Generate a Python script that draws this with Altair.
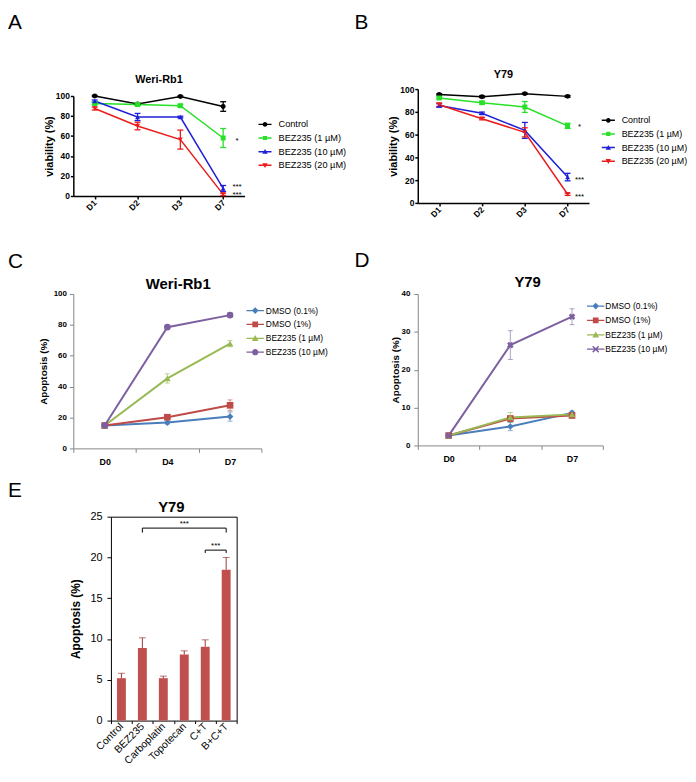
import altair as alt
import pandas as pd

FONT = "Liberation Sans"
MU = "\u00b5"

# ---------------- Panel A : Weri-Rb1 viability ----------------
a_days = ["D1", "D2", "D3", "D7"]
a_series = ["Control", f"BEZ235 (1 {MU}M)", f"BEZ235 (10 {MU}M)", f"BEZ235 (20 {MU}M)"]
a_control = [100.0, 92.0, 99.5, 89.5]
a_bez1 = [92.5, 91.5, 90.3, 58.0]
a_bez10 = [95.0, 79.0, 79.0, 7.5]
a_bez20 = [87.5, 70.0, 56.4, 1.6]
a_control_err = [0.6, 0.8, 0.6, 4.8]
a_bez1_err = [1.0, 1.2, 1.4, 9.5]
a_bez10_err = [1.0, 3.6, 0.8, 3.0]
a_bez20_err = [1.5, 3.8, 9.5, 1.2]
a_star_labels = ["*", "***", "***"]
a_star_values = [54.5, 8.5, 0.8]

# ---------------- Panel B : Y79 viability ----------------
b_days = ["D1", "D2", "D3", "D7"]
b_series = a_series
b_control = [95.3, 93.3, 96.0, 93.6]
b_bez1 = [92.2, 88.0, 84.3, 67.7]
b_bez10 = [85.6, 78.8, 63.7, 22.7]
b_bez20 = [86.3, 74.0, 62.0, 7.6]
b_control_err = [0.6, 0.8, 0.6, 0.8]
b_bez1_err = [1.0, 1.2, 4.8, 2.3]
b_bez10_err = [1.5, 1.0, 7.0, 3.3]
b_bez20_err = [1.5, 1.0, 4.0, 1.0]
b_star_labels = ["*", "***", "***"]
b_star_values = [66.5, 20.4, 4.8]

# ---------------- Panel C : Weri-Rb1 apoptosis ----------------
c_days = ["D0", "D4", "D7"]
c_series = ["DMSO (0.1%)", "DMSO (1%)", f"BEZ235 (1 {MU}M)", f"BEZ235 (10 {MU}M)"]
c_dmso01 = [14.8, 16.7, 20.6]
c_dmso1 = [14.8, 20.2, 27.9]
c_bez1 = [14.8, 45.3, 67.8]
c_bez10 = [14.8, 78.5, 86.3]
c_dmso01_err = [1.0, 1.0, 3.0]
c_dmso1_err = [1.0, 1.5, 3.5]
c_bez1_err = [1.0, 3.0, 2.0]
c_bez10_err = [1.0, 1.2, 1.5]

# ---------------- Panel D : Y79 apoptosis ----------------
d_days = ["D0", "D4", "D7"]
d_series = c_series
d_dmso01 = [2.6, 5.0, 8.6]
d_dmso1 = [2.6, 7.1, 7.9]
d_bez1 = [2.6, 7.4, 8.2]
d_bez10 = [2.6, 26.5, 34.0]
d_dmso01_err = [0.3, 1.1, 0.5]
d_dmso1_err = [0.3, 0.8, 0.5]
d_bez1_err = [0.3, 1.3, 0.5]
d_bez10_err = [0.3, 3.8, 2.1]

# ---------------- Panel E : Y79 apoptosis, combinations ----------------
e_cats = ["Control", "BEZ235", "Carboplatin", "Topotecan", "C+T", "B+C+T"]
e_values = [5.2, 8.9, 5.2, 8.1, 9.05, 18.5]
e_errors = [0.6, 1.25, 0.25, 0.45, 0.85, 1.5]
e_bracket_start = ["BEZ235", "C+T"]
e_bracket_end = ["B+C+T", "B+C+T"]
e_bracket_level = [23.6, 20.9]
e_bracket_drop = [0.55, 0.35]
e_bracket_labels = ["***", "***"]
e_star_gap = [0.45, 0.45]

# ---------------- styles ----------------
AB_COLORS = ["#000000", "#27e027", "#1f1fd8", "#ea1c1c"]
AB_SHAPES = ["circle", "square", "triangle-up", "triangle-down"]
CD_COLORS = ["#4a7ebb", "#be4b48", "#98b954", "#7d60a0"]
C_SHAPES = ["diamond", "square", "triangle-up", "circle"]
D_SHAPES = ["diamond", "square", "triangle-up", "cross"]
E_BAR = "#c0504d"
E_ERR = "#9c3634"


def f(v):
    return f"{v:.3f}".rstrip("0").rstrip(".")


def bar_path(L, t):
    return f"M{f(-L)},{f(-t)}H{f(L)}V{f(t)}H{f(-L)}Z"


def marker_path(kind, s):
    if kind == "circle":
        return f"M{f(s)},0A{f(s)},{f(s)} 0 1,1 {f(-s)},0A{f(s)},{f(s)} 0 1,1 {f(s)},0Z"
    if kind == "square":
        return f"M{f(-s)},{f(-s)}H{f(s)}V{f(s)}H{f(-s)}Z"
    if kind == "triangle-up":
        return f"M0,{f(-s)}L{f(s)},{f(s*0.8)}L{f(-s)},{f(s*0.8)}Z"
    if kind == "triangle-down":
        return f"M0,{f(s)}L{f(-s)},{f(-s*0.8)}L{f(s)},{f(-s*0.8)}Z"
    if kind == "diamond":
        return f"M0,{f(-s)}L{f(s)},0L0,{f(s)}L{f(-s)},0Z"
    if kind == "cross":
        k = 0.13
        a = s
        p1 = f"M{f(-a+k)},{f(-a-k)}L{f(a+k)},{f(a-k)}L{f(a-k)},{f(a+k)}L{f(-a-k)},{f(-a+k)}Z"
        p2 = f"M{f(-a-k)},{f(a-k)}L{f(a-k)},{f(-a-k)}L{f(a+k)},{f(-a+k)}L{f(-a+k)},{f(a+k)}Z"
        return p1 + p2
    return ""


def legend_symbol(kind, L, t, s):
    return bar_path(L, t) + marker_path(kind, s)


def long_df(days, names, series_vals, series_errs):
    rows = []
    for name, vals, errs in zip(names, series_vals, series_errs):
        for d, v, e in zip(days, vals, errs):
            rows.append({"day": d, "series": name, "value": v, "lo": v - e, "hi": v + e})
    return pd.DataFrame(rows)


def text_layer(text, x, y, size, weight="normal", align="left", baseline="top"):
    return alt.Chart(alt.Data(values=[{"t": text}])).mark_text(
        font=FONT, fontSize=size, fontWeight=weight, align=align, baseline=baseline, color="black"
    ).encode(text="t:N", x=alt.value(x), y=alt.value(y))


def line_panel(days, names, vals, errs, colors, shapes, legend_paths, *, width, height,
               y_max, x_scale, x_axis, y_axis, legend_props, marker_size,
               line_width, err_width, cap_size, err_opacity, title, title_x, title_y,
               title_size, letter, letter_x, letter_y, star_labels=(), star_values=(),
               star_dx=0, angles=None):
    df = long_df(days, names, vals, errs)
    ysc = alt.Scale(domain=[0, y_max], nice=False, zero=True)
    csc = alt.Scale(domain=names, range=colors)

    def X():
        return alt.X("day:N", sort=days, scale=x_scale, axis=x_axis)

    def Y(field):
        return alt.Y(f"{field}:Q", scale=ysc, axis=y_axis)

    def C(legend=None):
        return alt.Color("series:N", scale=csc, legend=legend)

    base = alt.Chart(df)
    legend_layer = base.mark_point(filled=True, opacity=0, size=legend_props["symbolSize"]).encode(
        x=X(), y=Y("value"), color=C(alt.Legend(**legend_props)),
        shape=alt.Shape("series:N", scale=alt.Scale(domain=names, range=legend_paths),
                        legend=alt.Legend(**legend_props)))
    lines = base.mark_line(strokeWidth=line_width).encode(x=X(), y=Y("value"), color=C())
    rules = base.mark_rule(strokeWidth=err_width, opacity=err_opacity).encode(
        x=X(), y=Y("lo"), y2="hi:Q", color=C())
    cap_lo = base.mark_tick(size=cap_size, thickness=err_width, opacity=err_opacity).encode(
        x=X(), y=Y("lo"), color=C())
    cap_hi = base.mark_tick(size=cap_size, thickness=err_width, opacity=err_opacity).encode(
        x=X(), y=Y("hi"), color=C())
    layers = [legend_layer, lines, rules, cap_lo, cap_hi]
    for i, name in enumerate(names):
        ang = angles[i] if angles else 0
        layers.append(base.transform_filter(alt.datum.series == name).mark_point(
            filled=True, shape=shapes[i], angle=ang, size=marker_size, opacity=1).encode(
            x=X(), y=Y("value"), color=C()))
    if star_labels:
        sdf = pd.DataFrame({"day": [days[-1]] * len(star_labels), "value": star_values,
                            "label": star_labels})
        layers.append(alt.Chart(sdf).mark_text(font=FONT, fontSize=8, dx=star_dx, align="center",
                                               baseline="middle", color="black").encode(
            x=X(), y=Y("value"), text="label:N"))
    layers.append(text_layer(title, title_x, title_y, title_size, "bold", "center", "alphabetic"))
    layers.append(text_layer(letter, letter_x, letter_y, 21))
    return alt.layer(*layers).properties(width=width, height=height)


# ---------- A & B ----------
ab_x_axis = alt.Axis(title=None, labelAngle=-45, labelAlign="right", labelBaseline="middle",
                     labelFontSize=8.5, labelFontWeight="bold", labelPadding=2, tickSize=3,
                     tickWidth=1.5, tickColor="black", domainColor="black", domainWidth=1.5)
ab_y_axis = alt.Axis(title="viability (%)", values=[0, 20, 40, 60, 80, 100], labelFontSize=8.5,
                     labelFontWeight="bold", labelPadding=1, tickSize=3, tickWidth=1.5,
                     tickColor="black", domainColor="black", domainWidth=1.5, titleFontSize=11,
                     titleFontWeight="bold", titlePadding=1)
ab_paths = [legend_symbol(k, 2.2, 0.25, s) for k, s in
            zip(AB_SHAPES, [0.8, 0.7, 0.9, 0.9])]


def ab_legend(x, y, size):
    return dict(orient="none", legendX=x, legendY=y, title=None, labelFont=FONT,
                labelFontSize=size, labelColor="black", symbolSize=36, symbolStrokeWidth=0,
                symbolOpacity=1, labelOffset=9, rowPadding=3.8, padding=0, labelLimit=300)


panel_a = line_panel(
    a_days, a_series, [a_control, a_bez1, a_bez10, a_bez20],
    [a_control_err, a_bez1_err, a_bez10_err, a_bez20_err], AB_COLORS, AB_SHAPES, ab_paths,
    width=173, height=101, y_max=100,
    x_scale=alt.Scale(type="point", domain=a_days, padding=0.5),
    x_axis=ab_x_axis, y_axis=ab_y_axis, legend_props=ab_legend(189, 24, 9.3), marker_size=25,
    line_width=1.5, err_width=1.3, cap_size=6, err_opacity=1,
    title="Weri-Rb1", title_x=86.5, title_y=-13, title_size=11,
    letter="A", letter_x=-66, letter_y=-85,
    star_labels=a_star_labels, star_values=a_star_values, star_dx=14)

panel_b = line_panel(
    b_days, b_series, [b_control, b_bez1, b_bez10, b_bez20],
    [b_control_err, b_bez1_err, b_bez10_err, b_bez20_err], AB_COLORS, AB_SHAPES, ab_paths,
    width=173, height=115, y_max=100,
    x_scale=alt.Scale(type="point", domain=b_days, padding=0.5),
    x_axis=ab_x_axis, y_axis=ab_y_axis, legend_props=ab_legend(188, 27, 9.0), marker_size=25,
    line_width=1.5, err_width=1.3, cap_size=6, err_opacity=1,
    title="Y79", title_x=86.5, title_y=-11, title_size=11,
    letter="B", letter_x=-64, letter_y=-78,
    star_labels=b_star_labels, star_values=b_star_values, star_dx=12)

# ---------- C & D ----------
cd_x_axis = alt.Axis(title=None, labelAngle=0, labelFontSize=9, labelFontWeight="bold",
                     labelPadding=5, tickBand="extent", tickSize=4, tickColor="#868686",
                     domainColor="#868686", labelColor="black")


def cd_y_axis(values, pad, tpad):
    return alt.Axis(title="Apoptosis (%)", values=values, labelFontSize=8,
                    labelFontWeight="bold", labelPadding=pad, tickSize=4,
                    tickColor="#868686", domainColor="#868686", titleFontSize=10,
                    titleFontWeight="bold", titlePadding=tpad, labelColor="black")


def cd_legend(x, y, off, rp):
    return dict(orient="none", legendX=x, legendY=y, title=None, labelFont=FONT,
                labelFontSize=8.5, labelColor="black", symbolSize=64, symbolStrokeWidth=0,
                symbolOpacity=1, labelOffset=off, rowPadding=rp, padding=0, labelLimit=300)


c_paths = [legend_symbol(k, 2.2, 0.16, s) for k, s in zip(C_SHAPES, [0.85, 0.72, 0.85, 0.8])]
d_paths = [legend_symbol(k, 2.2, 0.16, s) for k, s in zip(D_SHAPES, [0.85, 0.72, 0.85, 0.75])]

panel_c = line_panel(
    c_days, c_series, [c_dmso01, c_dmso1, c_bez1, c_bez10],
    [c_dmso01_err, c_dmso1_err, c_bez1_err, c_bez10_err], CD_COLORS, C_SHAPES, c_paths,
    width=190, height=156, y_max=100,
    x_scale=alt.Scale(type="band", domain=c_days, paddingInner=0, paddingOuter=0),
    x_axis=cd_x_axis, y_axis=cd_y_axis([0, 20, 40, 60, 80, 100], 3, 5),
    legend_props=cd_legend(179.5, 12.5, 6.5, 5.0), marker_size=45,
    line_width=2, err_width=1, cap_size=5, err_opacity=0.6,
    title="Weri-Rb1", title_x=106, title_y=-5, title_size=15,
    letter="C", letter_x=-66, letter_y=-43)

panel_d = line_panel(
    d_days, d_series, [d_dmso01, d_dmso1, d_bez1, d_bez10],
    [d_dmso01_err, d_dmso1_err, d_bez1_err, d_bez10_err], CD_COLORS, D_SHAPES, d_paths,
    width=187, height=153, y_max=40,
    x_scale=alt.Scale(type="band", domain=d_days, paddingInner=0, paddingOuter=0),
    x_axis=cd_x_axis, y_axis=cd_y_axis([0, 10, 20, 30, 40], 4, 1),
    legend_props=cd_legend(175.5, 8, 5.5, 5.5), marker_size=45,
    line_width=2, err_width=1, cap_size=5, err_opacity=0.6,
    title="Y79", title_x=111, title_y=-7.5, title_size=15,
    letter="D", letter_x=-64, letter_y=-44.5, angles=[0, 0, 0, 45])

# ---------- E ----------
E_LEFT, E_RIGHT, E_H, E_TOP = 38, 165, 183, -23
e_step = (E_RIGHT - E_LEFT) / len(e_cats)
e_df = pd.DataFrame({"cat": e_cats, "value": e_values,
                     "hi": [v + e for v, e in zip(e_values, e_errors)]})
exs = alt.Scale(domain=e_cats, range=[E_LEFT, E_RIGHT], paddingInner=0, paddingOuter=0)
eys = alt.Scale(domain=[0, 25], range=[E_H, E_TOP], nice=False, zero=True)

e_bottom = alt.Axis(orient="bottom", title=None, labelAngle=-45, labelAlign="right",
                    labelBaseline="middle", labelFontSize=10.5, labelPadding=1, tickSize=3,
                    tickBand="extent", tickColor="black", domainColor="black",
                    labelColor="black")
e_left = alt.Axis(orient="left", offset=-E_LEFT, title="Apoptosis (%)", titleFontSize=12,
                  titleFontWeight="bold", titlePadding=8, values=[0, 5, 10, 15, 20, 25],
                  labelFontSize=11, labelPadding=5, tickSize=4, tickColor="black",
                  domainColor="black", labelColor="black")
e_top = alt.Axis(orient="top", offset=-E_TOP, labels=False, ticks=False, title=None,
                 domainColor="black")
e_right = alt.Axis(orient="right", labels=False, ticks=False, title=None, domainColor="black")

e_bars = alt.Chart(e_df).mark_bar(size=9, color=E_BAR).encode(
    x=alt.X("cat:N", sort=e_cats, scale=exs, axis=e_bottom),
    y=alt.Y("value:Q", scale=eys, axis=e_left))
e_err = alt.Chart(e_df).mark_rule(color=E_ERR, strokeWidth=1).encode(
    x=alt.X("cat:N", sort=e_cats, scale=exs, axis=e_top),
    y=alt.Y("value:Q", scale=eys, axis=e_right), y2="hi:Q")
e_cap = alt.Chart(e_df).mark_tick(color=E_ERR, size=7, thickness=1).encode(
    x=alt.X("cat:N", sort=e_cats, scale=exs, axis=None),
    y=alt.Y("hi:Q", scale=eys, axis=None))

br_df = pd.DataFrame({"start": e_bracket_start, "end": e_bracket_end,
                      "level": e_bracket_level})
legs = []
for s, e_, lv, dr in zip(e_bracket_start, e_bracket_end, e_bracket_level, e_bracket_drop):
    legs.append({"cat": s, "top": lv, "bottom": lv - dr})
    legs.append({"cat": e_, "top": lv, "bottom": lv - dr})
legs_df = pd.DataFrame(legs)
e_br = alt.Chart(br_df).mark_rule(color="black", strokeWidth=1).encode(
    x=alt.X("start:N", sort=e_cats, scale=exs, axis=None), x2="end:N",
    y=alt.Y("level:Q", scale=eys, axis=None))
e_legs = alt.Chart(legs_df).mark_rule(color="black", strokeWidth=1).encode(
    x=alt.X("cat:N", sort=e_cats, scale=exs, axis=None),
    y=alt.Y("top:Q", scale=eys, axis=None), y2="bottom:Q")
e_layers = [e_bars, e_err, e_cap, e_br, e_legs]
for s, e_, lv, lab, gap in zip(e_bracket_start, e_bracket_end, e_bracket_level,
                               e_bracket_labels, e_star_gap):
    mid = (e_cats.index(e_) - e_cats.index(s)) / 2 * e_step
    sdf = pd.DataFrame({"cat": [s], "y": [lv + gap], "label": [lab]})
    e_layers.append(alt.Chart(sdf).mark_text(font=FONT, fontSize=8, dx=mid, align="center",
                                             baseline="middle", color="black").encode(
        x=alt.X("cat:N", sort=e_cats, scale=exs, axis=None),
        y=alt.Y("y:Q", scale=eys, axis=None), text="label:N"))
e_layers.append(text_layer("Y79", 99, -28, 15, "bold", "center", "alphabetic"))
e_layers.append(text_layer("E", -66, -60, 21))
panel_e = alt.layer(*e_layers).resolve_axis(x="independent", y="independent").properties(
    width=E_RIGHT, height=E_H)

chart = alt.concat(
    panel_a, panel_b, panel_c, panel_d, panel_e, columns=2,
    spacing={"row": 92, "column": 158}, bounds="flush", align="each",
    center={"row": True, "column": False},
).resolve_scale(
    color="independent", shape="independent"
).resolve_legend(
    color="independent", shape="independent"
).properties(
    padding={"left": 0, "top": 0, "right": 0, "bottom": 0}
).configure_view(stroke=None).configure_axis(
    grid=False, labelFont=FONT, titleFont=FONT, labelColor="black", titleColor="black"
).configure_legend(labelFont=FONT)

chart.save("out.html", embed_options={"renderer": "svg", "actions": False})
